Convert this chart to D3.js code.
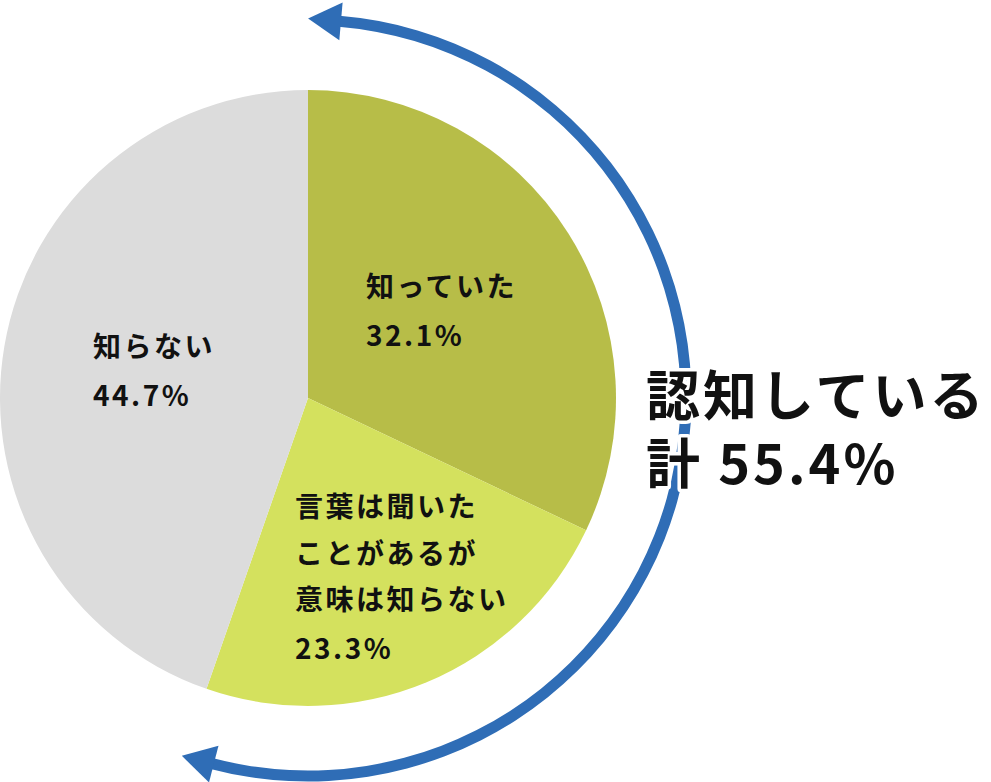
<!DOCTYPE html>
<html><head><meta charset="utf-8">
<script src="https://cdn.jsdelivr.net/npm/d3@7"></script>
<style>body{margin:0;background:#fff}svg{display:block}</style>
</head><body>
<script>
const categories = ["知っていた", "言葉は聞いたことがある が意味は知らない", "知らない"];
const labelLines = [["知っていた"], ["言葉は聞いた", "ことがあるが", "意味は知らない"], ["知らない"]];
const values = [32.1, 23.3, 44.7];
const colors = ["#b7bd48", "#d4e15e", "#dcdcdc"];
const totalLabel = ["認知している", "計 55.4%"];
const awareTotal = values[0] + values[1];

const W = 991, H = 782;
const cx = 308, cy = 398, R = 308;
const svg = d3.select("body").append("svg").attr("width", W).attr("height", H);
const g = svg.append("g").attr("transform", `translate(${cx},${cy})`);

const pie = d3.pie().sort(null).value(d => d)(values);
const arc = d3.arc().innerRadius(0).outerRadius(R);
g.selectAll("path.slice").data(pie).join("path").attr("class", "slice")
  .attr("d", arc).attr("fill", (d, i) => colors[i]);

// blue arc with arrowheads
const angle = d3.scaleLinear().domain([0, 100]).range([0, 2 * Math.PI]);
const rA = 378, sw = 11, headLen = 33, headHW = 19;
const a0 = angle(0), a1 = angle(awareTotal);
const bStart = a0 + headLen / rA, bEnd = a1 - headLen / rA;
g.append("path").attr("d", d3.arc().innerRadius(rA - sw / 2).outerRadius(rA + sw / 2)
  .startAngle(bStart - 0.005).endAngle(bEnd + 0.005)()).attr("fill", "#2f6db6");
function head(baseAng, dir) {
  const bx = rA * Math.sin(baseAng), by = -rA * Math.cos(baseAng);
  const tx = Math.cos(baseAng) * dir, ty = Math.sin(baseAng) * dir;
  const nx = Math.sin(baseAng), ny = -Math.cos(baseAng);
  const pts = [[bx + tx * headLen, by + ty * headLen], [bx + nx * headHW, by + ny * headHW], [bx - nx * headHW, by - ny * headHW]];
  g.append("path").attr("d", "M" + pts.map(p => p.join(",")).join("L") + "Z").attr("fill", "#2f6db6");
}
head(bStart, -1);
head(bEnd, 1);

// slice labels
const fs = 28, lh = 46.5;
const labelPos = [[366 - cx, 297 - cy], [295 - cx, 517 - cy], [93 - cx, 357 - cy]];
pie.forEach((d, i) => {
  const lines = labelLines[i].concat([values[i].toFixed(1) + "%"]);
  const t = g.append("text").attr("x", labelPos[i][0]).attr("y", labelPos[i][1])
    .attr("font-family", "'Noto Sans CJK JP'").attr("font-size", fs).attr("font-weight", 700)
    .attr("letter-spacing", 2.5).attr("fill", "#111");
  lines.forEach((l, j) => t.append("tspan").attr("x", labelPos[i][0]).attr("dy", j ? lh + (j === lines.length - 1 ? 2 : 0) : 0).text(l));
});

// total label
const tt = svg.append("text").attr("x", 646).attr("y", 416)
  .attr("font-family", "'Noto Sans CJK JP'").attr("font-size", 54).attr("font-weight", 700)
  .attr("letter-spacing", 3).attr("fill", "#111")
  .attr("stroke", "#fff").attr("stroke-width", 7).attr("paint-order", "stroke").attr("stroke-linejoin", "round");
totalLabel.forEach((l, j) => tt.append("tspan").attr("x", 646).attr("dy", j ? 68 : 0).text(l));
</script>
</body></html>
